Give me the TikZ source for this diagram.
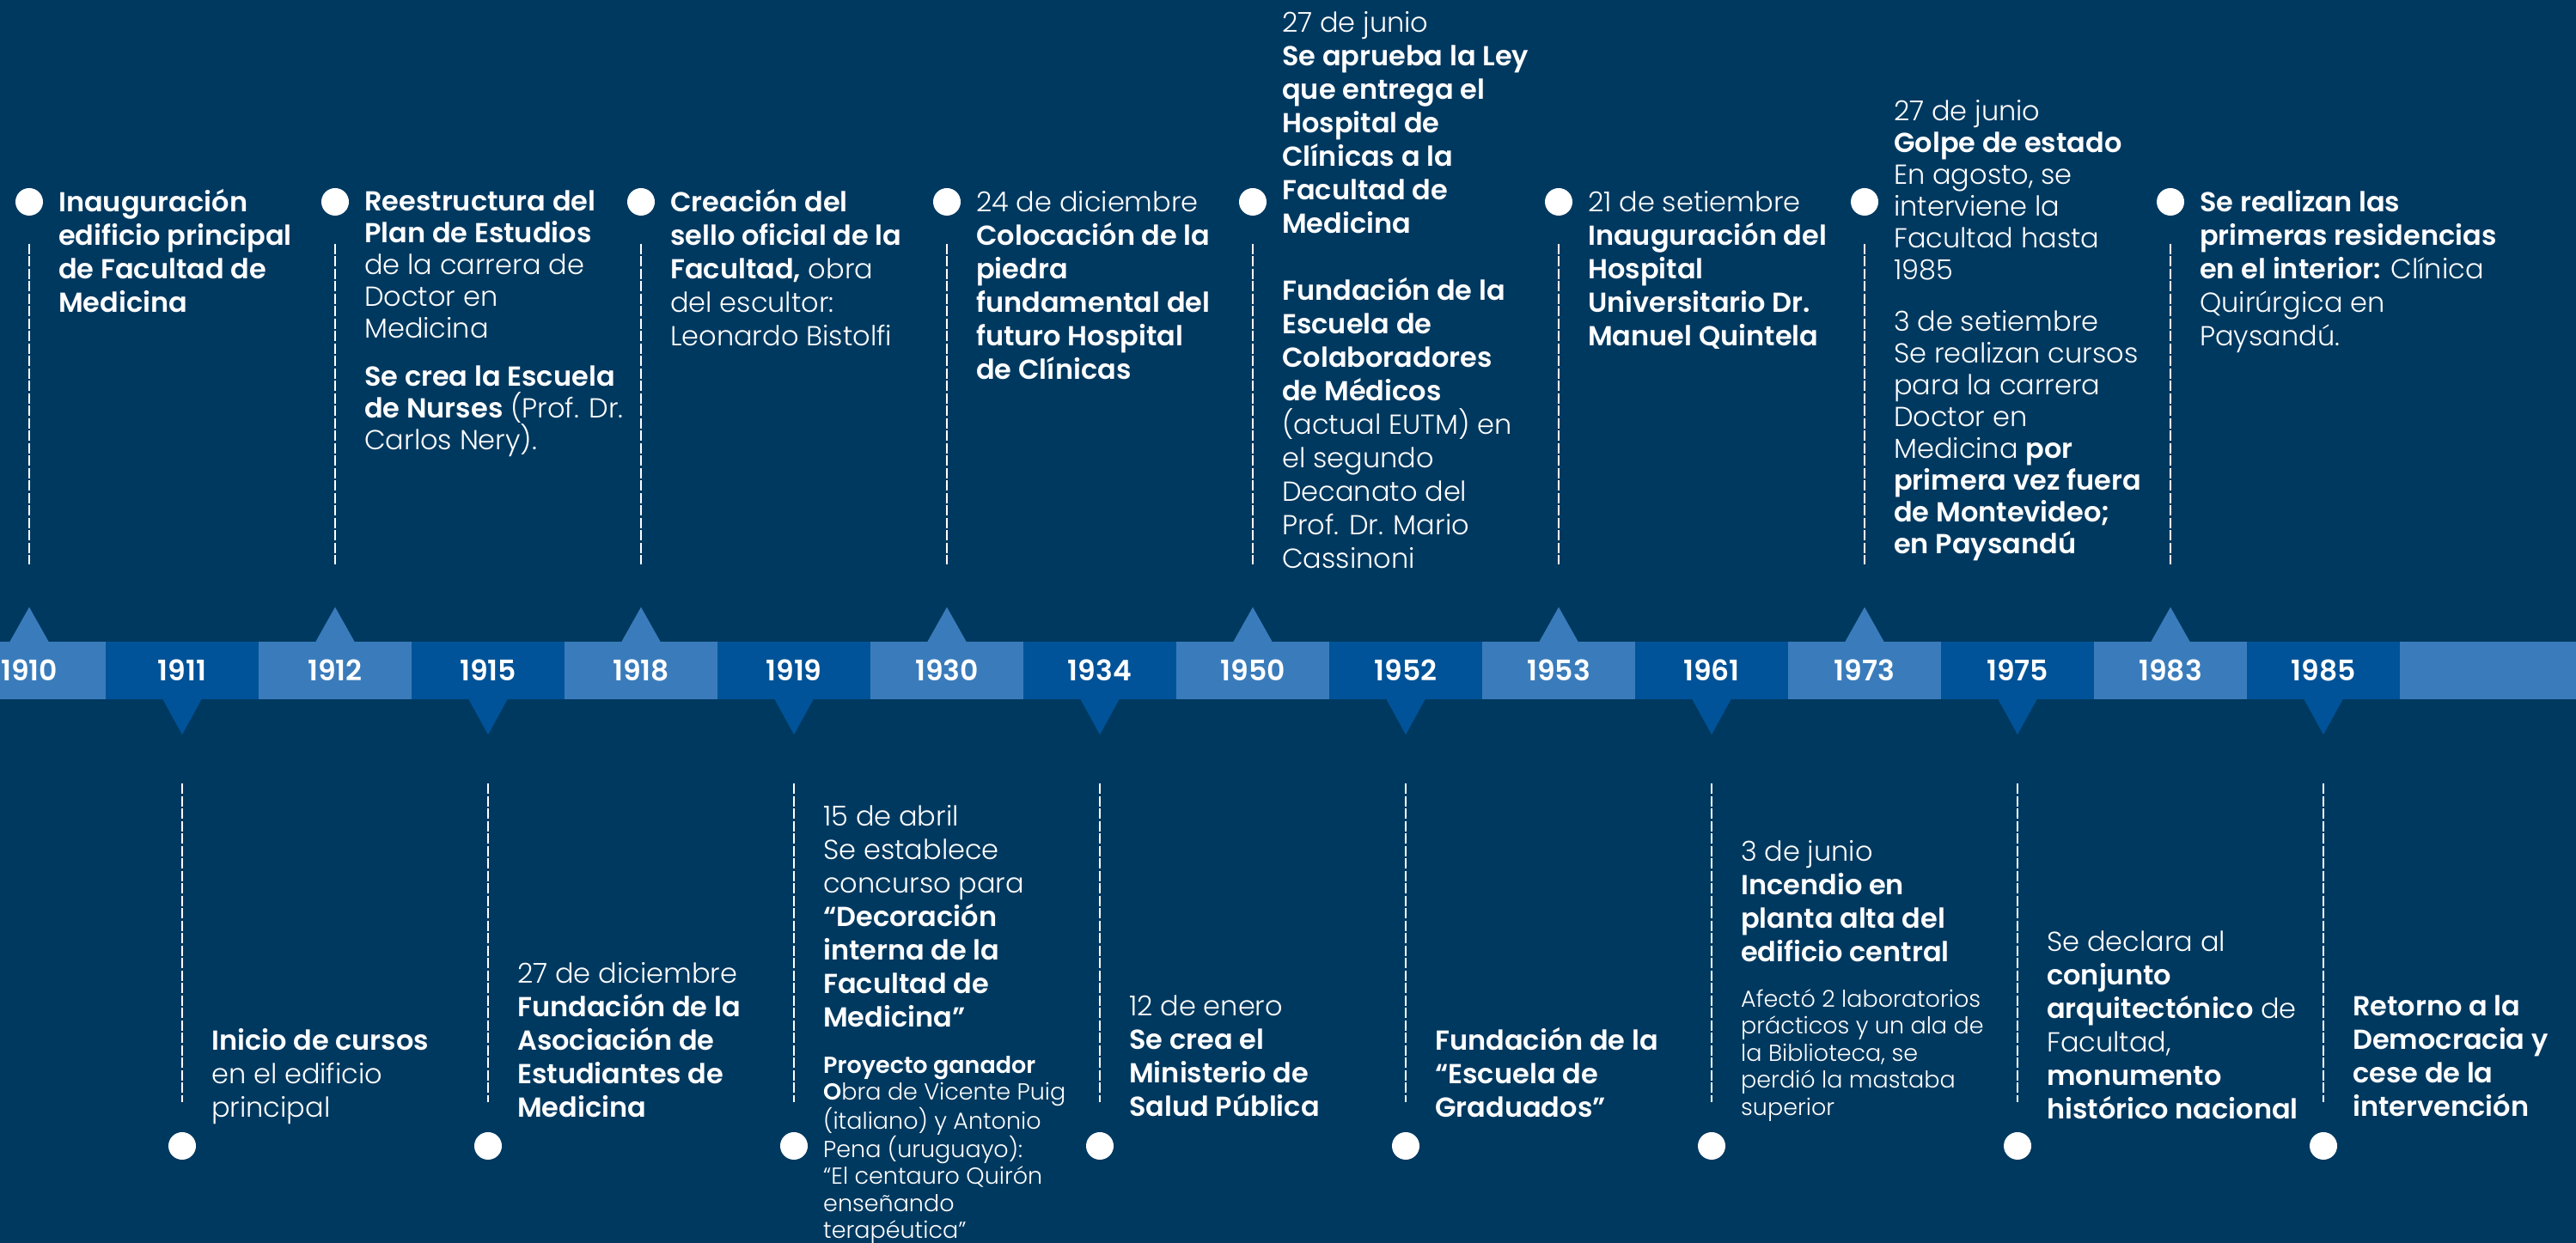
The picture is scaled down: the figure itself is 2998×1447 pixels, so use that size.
\documentclass[tikz,border=0pt]{standalone}
\usepackage{fontspec}
\IfFontExistsTF{Poppins Light}{%
  \IfFontExistsTF{Poppins SemiBold}{%
    \setmainfont{Poppins Light}[BoldFont={Poppins SemiBold}]}{%
    \setmainfont{Poppins Light}[BoldFont={Poppins}]}}{%
  \setmainfont{Poppins}}
\usepackage{tikz}
\definecolor{navy}{RGB}{0,57,96}
\definecolor{sky}{RGB}{58,124,187}
\definecolor{royal}{RGB}{0,83,152}
\newcommand\notefont{\fontsize{32}{39}\selectfont}
\newcommand\tightfont{\fontsize{32}{37}\selectfont}
\newcommand\smallnotefont{\fontsize{27}{31.5}\selectfont}
\newcommand\yearfont{\fontsize{33}{33}\selectfont\bfseries}
\tikzset{
    every node/.style={inner sep=0pt, text=white}
}
\tikzset{
    yearbox/.style={rectangle, minimum width=178pt, minimum height=67pt,
    	font=\yearfont},
    uptick/.style={yearbox, fill=sky},
    downtick/.style={yearbox, fill=royal},
    eventdot/.style={circle, fill=white, minimum size=32pt},
    note/.style={anchor=north west, align=left, font=\notefont},
    notetight/.style={note, font=\tightfont},
    notesmall/.style={note, font=\smallnotefont},
    guide/.style={draw=white, line width=2.5pt, dash pattern=on 12pt off 2.5pt}
}

\begin{document}
\begin{tikzpicture}[x=1pt,y=1pt]
	\useasboundingbox (0,0) rectangle (2998,1447);
	\fill[navy] (0,0) rectangle (2998,1447);

	% band
	\node[uptick] (y1910) at (34,666.5) {1910};
	\node[downtick] (y1911) at (212,666.5) {1911};
	\node[uptick] (y1912) at (390,666.5) {1912};
	\node[downtick] (y1915) at (568,666.5) {1915};
	\node[uptick] (y1918) at (746,666.5) {1918};
	\node[downtick] (y1919) at (924,666.5) {1919};
	\node[uptick] (y1930) at (1102,666.5) {1930};
	\node[downtick] (y1934) at (1280,666.5) {1934};
	\node[uptick] (y1950) at (1458,666.5) {1950};
	\node[downtick] (y1952) at (1636,666.5) {1952};
	\node[uptick] (y1953) at (1814,666.5) {1953};
	\node[downtick] (y1961) at (1992,666.5) {1961};
	\node[uptick] (y1973) at (2170,666.5) {1973};
	\node[downtick] (y1975) at (2348,666.5) {1975};
	\node[uptick] (y1983) at (2526,666.5) {1983};
	\node[downtick] (y1985) at (2704,666.5) {1985};
	\fill[sky] (2793,633) rectangle (2998,700);

	% ticks
	\fill[sky] ([xshift=-22.5pt]y1910.north) -- ([yshift=40pt]y1910.north) -- ([xshift=22.5pt]y1910.north) -- cycle;
	\fill[sky] ([xshift=-22.5pt]y1912.north) -- ([yshift=40pt]y1912.north) -- ([xshift=22.5pt]y1912.north) -- cycle;
	\fill[sky] ([xshift=-22.5pt]y1918.north) -- ([yshift=40pt]y1918.north) -- ([xshift=22.5pt]y1918.north) -- cycle;
	\fill[sky] ([xshift=-22.5pt]y1930.north) -- ([yshift=40pt]y1930.north) -- ([xshift=22.5pt]y1930.north) -- cycle;
	\fill[sky] ([xshift=-22.5pt]y1950.north) -- ([yshift=40pt]y1950.north) -- ([xshift=22.5pt]y1950.north) -- cycle;
	\fill[sky] ([xshift=-22.5pt]y1953.north) -- ([yshift=40pt]y1953.north) -- ([xshift=22.5pt]y1953.north) -- cycle;
	\fill[sky] ([xshift=-22.5pt]y1973.north) -- ([yshift=40pt]y1973.north) -- ([xshift=22.5pt]y1973.north) -- cycle;
	\fill[sky] ([xshift=-22.5pt]y1983.north) -- ([yshift=40pt]y1983.north) -- ([xshift=22.5pt]y1983.north) -- cycle;
	\fill[royal] ([xshift=-22.5pt]y1911.south) -- ([yshift=-41pt]y1911.south) -- ([xshift=22.5pt]y1911.south) -- cycle;
	\fill[royal] ([xshift=-22.5pt]y1915.south) -- ([yshift=-41pt]y1915.south) -- ([xshift=22.5pt]y1915.south) -- cycle;
	\fill[royal] ([xshift=-22.5pt]y1919.south) -- ([yshift=-41pt]y1919.south) -- ([xshift=22.5pt]y1919.south) -- cycle;
	\fill[royal] ([xshift=-22.5pt]y1934.south) -- ([yshift=-41pt]y1934.south) -- ([xshift=22.5pt]y1934.south) -- cycle;
	\fill[royal] ([xshift=-22.5pt]y1952.south) -- ([yshift=-41pt]y1952.south) -- ([xshift=22.5pt]y1952.south) -- cycle;
	\fill[royal] ([xshift=-22.5pt]y1961.south) -- ([yshift=-41pt]y1961.south) -- ([xshift=22.5pt]y1961.south) -- cycle;
	\fill[royal] ([xshift=-22.5pt]y1975.south) -- ([yshift=-41pt]y1975.south) -- ([xshift=22.5pt]y1975.south) -- cycle;
	\fill[royal] ([xshift=-22.5pt]y1985.south) -- ([yshift=-41pt]y1985.south) -- ([xshift=22.5pt]y1985.south) -- cycle;

	% dots
	\node[eventdot] (d1910) at (34,1212) {};
	\node[eventdot] (d1912) at (390,1212) {};
	\node[eventdot] (d1918) at (746,1212) {};
	\node[eventdot] (d1930) at (1102,1212) {};
	\node[eventdot] (d1950) at (1458,1212) {};
	\node[eventdot] (d1953) at (1814,1212) {};
	\node[eventdot] (d1973) at (2170,1212) {};
	\node[eventdot] (d1983) at (2526,1212) {};
	\node[eventdot] (d1911) at (212,113) {};
	\node[eventdot] (d1915) at (568,113) {};
	\node[eventdot] (d1919) at (924,113) {};
	\node[eventdot] (d1934) at (1280,113) {};
	\node[eventdot] (d1952) at (1636,113) {};
	\node[eventdot] (d1961) at (1992,113) {};
	\node[eventdot] (d1975) at (2348,113) {};
	\node[eventdot] (d1985) at (2704,113) {};

	\draw[guide] ([yshift=-49pt]d1910.center) -- ([yshift=90pt]y1910.north);
	\draw[guide] ([yshift=-49pt]d1912.center) -- ([yshift=90pt]y1912.north);
	\draw[guide] ([yshift=-49pt]d1918.center) -- ([yshift=90pt]y1918.north);
	\draw[guide] ([yshift=-49pt]d1930.center) -- ([yshift=90pt]y1930.north);
	\draw[guide] ([yshift=-49pt]d1950.center) -- ([yshift=90pt]y1950.north);
	\draw[guide] ([yshift=-49pt]d1953.center) -- ([yshift=90pt]y1953.north);
	\draw[guide] ([yshift=-49pt]d1973.center) -- ([yshift=90pt]y1973.north);
	\draw[guide] ([yshift=-49pt]d1983.center) -- ([yshift=90pt]y1983.north);
	\draw[guide] ([yshift=-98pt]y1911.south) -- ([yshift=51pt]d1911.center);
	\draw[guide] ([yshift=-98pt]y1915.south) -- ([yshift=51pt]d1915.center);
	\draw[guide] ([yshift=-98pt]y1919.south) -- ([yshift=51pt]d1919.center);
	\draw[guide] ([yshift=-98pt]y1934.south) -- ([yshift=51pt]d1934.center);
	\draw[guide] ([yshift=-98pt]y1952.south) -- ([yshift=51pt]d1952.center);
	\draw[guide] ([yshift=-98pt]y1961.south) -- ([yshift=51pt]d1961.center);
	\draw[guide] ([yshift=-98pt]y1975.south) -- ([yshift=51pt]d1975.center);
	\draw[guide] ([yshift=-98pt]y1985.south) -- ([yshift=51pt]d1985.center);

	% texts above the band
	\node[note] (t1910) at (68,1228) {\strut\textbf{Inauguración}\\
		\textbf{edificio principal}\\ \textbf{de Facultad de}\\ \textbf{Medicina}};
	\node[notetight] (t1912) at (424,1228) {\strut\textbf{Reestructura del}\\
		\textbf{Plan de Estudios}\\ de la carrera de\\ Doctor en\\ Medicina\\[19pt]
		\textbf{Se crea la Escuela}\\ \textbf{de Nurses} (Prof. Dr.\\ Carlos Nery).};
	\node[note] (t1918) at (780,1228) {\strut\textbf{Creación del}\\
		\textbf{sello oficial de la}\\ \textbf{Facultad,} obra\\ del escultor:\\
		Leonardo Bistolfi};
	\node[note] (t1930) at (1136,1228) {\strut 24 de diciembre\\
		\textbf{Colocación de la}\\ \textbf{piedra}\\ \textbf{fundamental del}\\
		\textbf{futuro Hospital}\\ \textbf{de Clínicas}};
	\node[note] (t1950) at (1492,1437) {\strut 27 de junio\\
		\textbf{Se aprueba la Ley}\\ \textbf{que entrega el}\\ \textbf{Hospital de}\\
		\textbf{Clínicas a la}\\ \textbf{Facultad de}\\ \textbf{Medicina}\\[39pt]
		\textbf{Fundación de la}\\ \textbf{Escuela de}\\ \textbf{Colaboradores}\\
		\textbf{de Médicos}\\ (actual EUTM) en\\ el segundo\\ Decanato del\\
		Prof. Dr. Mario\\ Cassinoni};
	\node[note] (t1953) at (1848,1228) {\strut 21 de setiembre\\
		\textbf{Inauguración del}\\ \textbf{Hospital}\\ \textbf{Universitario Dr.}\\
		\textbf{Manuel Quintela}};
	\node[notetight] (t1973) at (2204,1333) {\strut 27 de junio\\
		\textbf{Golpe de estado}\\ En agosto, se\\ interviene la\\ Facultad hasta\\
		1985\\[23pt] 3 de setiembre\\ Se realizan cursos\\ para la carrera\\
		Doctor en\\ Medicina \textbf{por}\\ \textbf{primera vez fuera}\\
		\textbf{de Montevideo;}\\ \textbf{en Paysandú}};
	\node[note] (t1983) at (2560,1228) {\strut\textbf{Se realizan las}\\
		\textbf{primeras residencias}\\ \textbf{en el interior:} Clínica\\
		Quirúrgica en\\ Paysandú.};

	% texts below the band
	\node[note] (t1911) at (246,252) {\strut\textbf{Inicio de cursos}\\
		en el edificio\\ principal};
	\node[note] (t1915) at (602,330) {\strut 27 de diciembre\\
		\textbf{Fundación de la}\\ \textbf{Asociación de}\\ \textbf{Estudiantes de}\\
		\textbf{Medicina}};
	\node[note] (t1919) at (958,513) {\strut 15 de abril\\ Se establece\\
		concurso para\\ \textbf{“Decoración}\\ \textbf{interna de la}\\
		\textbf{Facultad de}\\ \textbf{Medicina”}};
	\node[notesmall] (t1919b) at (958,220) {\strut\textbf{Proyecto ganador}\\
		\textbf{O}bra de Vicente Puig\\ (italiano) y Antonio\\ Pena (uruguayo):\\
		“El centauro Quirón\\ enseñando\\ terapéutica”};
	\node[note] (t1934) at (1314,292) {\strut 12 de enero\\
		\textbf{Se crea el}\\ \textbf{Ministerio de}\\ \textbf{Salud Pública}};
	\node[note] (t1952) at (1670,252) {\strut\textbf{Fundación de la}\\
		\textbf{“Escuela de}\\ \textbf{Graduados”}};
	\node[note] (t1961) at (2026,472) {\strut 3 de junio\\
		\textbf{Incendio en}\\ \textbf{planta alta del}\\ \textbf{edificio central}};
	\node[notesmall] (t1961b) at (2026,297) {\strut Afectó 2 laboratorios\\
		prácticos y un ala de\\ la Biblioteca, se\\ perdió la mastaba\\ superior};
	\node[note] (t1975) at (2382,367) {\strut Se declara al\\
		\textbf{conjunto}\\ \textbf{arquitectónico} de\\ Facultad,\\
		\textbf{monumento}\\ \textbf{histórico nacional}};
	\node[note] (t1985) at (2738,292) {\strut\textbf{Retorno a la}\\
		\textbf{Democracia y}\\ \textbf{cese de la}\\ \textbf{intervención}};
\end{tikzpicture}
\end{document}
